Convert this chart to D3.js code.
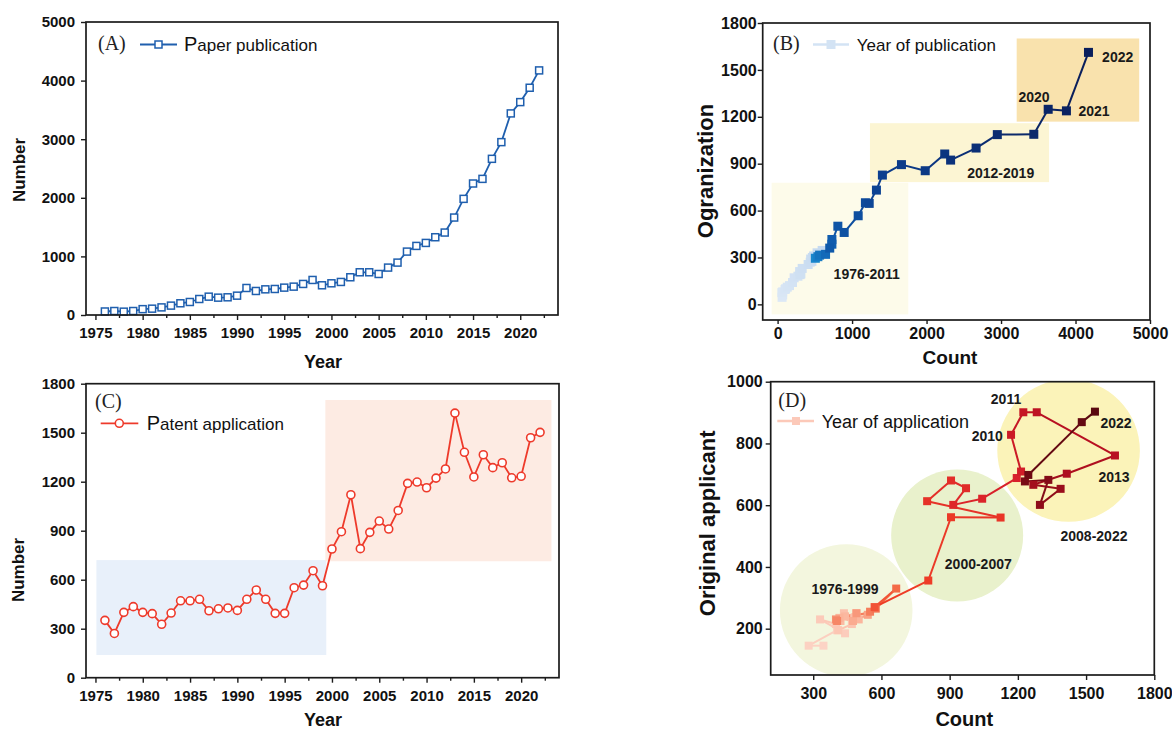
<!DOCTYPE html>
<html>
<head>
<meta charset="utf-8">
<script src="https://cdn.jsdelivr.net/npm/d3@7"></script>
<style>
  html, body { margin: 0; padding: 0; background: #fff; }
  svg { display: block; }
</style>
</head>
<body>
<svg id="fig" width="1172" height="731"></svg>
<script>
// ---------- data ----------
const years = d3.range(1976, 2023);

// (A) papers published per year
const paperCounts = [60, 68, 57, 68, 100, 108, 130, 160, 200, 222, 273, 313, 296, 302, 330,
  461, 410, 438, 444, 467, 484, 530, 598, 507, 541, 564, 644, 729, 729, 700, 809, 894,
  1082, 1179, 1230, 1327, 1407, 1663, 1982, 2244, 2323, 2665, 2950, 3440, 3633, 3878, 4174];

// (B) organizations publishing per year (x = paper count of that year)
const organizations = [45, 60, 75, 80, 95, 100, 110, 120, 140, 170, 180, 195, 210, 190, 230,
  275, 255, 270, 290, 300, 310, 330, 345, 295, 305, 315, 320, 385, 415, 360, 500, 460,
  567, 650, 646, 731, 827, 894, 855, 962, 923, 1000, 1086, 1088, 1248, 1238, 1612];

// (C) patent applications per year
const patentCounts = [351, 271, 400, 435, 400, 392, 327, 396, 471, 471, 480, 410, 422, 427, 412,
  480, 537, 480, 394, 394, 551, 567, 655, 563, 788, 894, 1120, 790, 890, 959, 910, 1024,
  1190, 1198, 1163, 1222, 1278, 1620, 1380, 1229, 1365, 1286, 1316, 1224, 1233, 1469, 1502];

// (D) applications (count) vs original applicants per year
const applicationCounts = [345, 280, 405, 440, 330, 400, 410, 470, 435, 480, 490, 420, 440, 500, 415,
  475, 540, 490, 400, 405, 550, 575, 665, 570, 806, 906, 1124, 801, 906, 972, 916, 1043,
  1195, 1214, 1170, 1224, 1283, 1627, 1415, 1268, 1388, 1297, 1334, 1231, 1246, 1481, 1539];
const originalApplicants = [145, 145, 195, 185, 230, 215, 195, 215, 250, 235, 250, 225, 240, 230, 235,
  225, 245, 250, 230, 225, 255, 265, 330, 270, 356, 561, 560, 613, 680, 655, 601, 621,
  688, 709, 828, 901, 901, 761, 702, 666, 653, 601, 682, 677, 698, 869, 903];

// tick values
const yearTicks = [1975, 1980, 1985, 1990, 1995, 2000, 2005, 2010, 2015, 2020];
const yearMinorTicks = [1977.5, 1982.5, 1987.5, 1992.5, 1997.5, 2002.5, 2007.5, 2012.5, 2017.5, 2022.5];
const paperTicks = [0, 1000, 2000, 3000, 4000, 5000];
const patentTicks = [0, 300, 600, 900, 1200, 1500, 1800];
const orgCountTicks = [0, 1000, 2000, 3000, 4000, 5000];
const orgTicks = [0, 300, 600, 900, 1200, 1500, 1800];
const applCountTicks = [300, 600, 900, 1200, 1500, 1800];
const applTicks = [200, 400, 600, 800, 1000];

// period annotations
const orgPeriods = [
  { label: "1976-2011", x: [-80, 1755], y: [-64, 778], fill: "#fdfbea" },
  { label: "2012-2019", x: [1240, 3645], y: [782, 1159], fill: "#fcf5d3" },
  { label: "2020-2022", x: [3210, 4855], y: [1169, 1701], fill: "#f9e2ad" }
];
const patentPeriods = [
  { x: [1975.1, 1999.4], y: [139, 720], fill: "#e8f0fa" },
  { x: [1999.3, 2023.2], y: [713, 1700], fill: "#fdebe3" }
];
const applPeriods = [
  { label: "1976-1999", cx: 445, cy: 259, fill: "#f3f6de" },
  { label: "2000-2007", cx: 933, cy: 502, fill: "#e9f1cc" },
  { label: "2008-2022", cx: 1423, cy: 777, fill: "#fbf3b9" }
];

// ---------- helpers ----------
const svg = d3.select("#fig");
const SANS = 'Arial, "Liberation Sans", sans-serif';
const SERIF = '"Liberation Serif", "Times New Roman", serif';
const INK = "#1b1b1b";
const intFmt = d3.format("d");

function styleAxis(g, fs) {
  g.select(".domain").remove();
  g.selectAll(".tick line").attr("stroke", INK).attr("stroke-width", 1.4);
  g.selectAll(".tick text").attr("fill", "#111")
    .style("font-family", SANS).style("font-weight", "bold").style("font-size", fs + "px");
}

function frame(x, y) {
  const [x0, x1] = x.range();
  const [y1, y0] = y.range();
  svg.append("rect").attr("x", x0).attr("y", y0).attr("width", x1 - x0).attr("height", y1 - y0)
    .attr("fill", "none").attr("stroke", INK).attr("stroke-width", 1.7);
}

function axisTitle(txt, cx, cy, fs, rotate) {
  svg.append("text")
    .attr("transform", `translate(${cx},${cy})` + (rotate ? " rotate(-90)" : ""))
    .attr("text-anchor", "middle").attr("dy", "0.36em")
    .style("font-family", SANS).style("font-weight", "bold").style("font-size", fs + "px")
    .attr("fill", "#111").text(txt);
}

function bold(txt, cx, cy, fs) {
  svg.append("text").attr("x", cx).attr("y", cy).attr("text-anchor", "middle").attr("dy", "0.36em")
    .style("font-family", SANS).style("font-weight", "bold").style("font-size", fs + "px")
    .attr("fill", "#1a1a1a").text(txt);
}

function yearAxis(x, yPix, pad) {
  const g1 = svg.append("g").attr("transform", `translate(0,${yPix})`)
    .call(d3.axisBottom(x).tickValues(yearTicks).tickSize(5).tickPadding(pad).tickFormat(intFmt));
  styleAxis(g1, 15);
  const g2 = svg.append("g").attr("transform", `translate(0,${yPix})`)
    .call(d3.axisBottom(x).tickValues(yearMinorTicks).tickSize(3).tickFormat(""));
  styleAxis(g2, 15);
}

// ---------- (A) paper publication ----------
{
  const x = d3.scaleLinear().domain([1974, 2024]).range([86, 558]);
  const y = d3.scaleLinear().domain([0, 5000]).range([315, 22]);
  const blue = "#1f5fae";
  yearAxis(x, 315, 7);
  styleAxis(svg.append("g").attr("transform", "translate(86,0)")
    .call(d3.axisLeft(y).tickValues(paperTicks).tickSize(5).tickPadding(6).tickFormat(intFmt)), 15);

  const pts = years.map((yr, i) => [yr, paperCounts[i]]);
  svg.append("path").datum(pts)
    .attr("d", d3.line().x(d => x(d[0])).y(d => y(d[1])))
    .attr("fill", "none").attr("stroke", blue).attr("stroke-width", 1.8);
  svg.append("g").selectAll("rect").data(pts).join("rect")
    .attr("x", d => x(d[0]) - 3.5).attr("y", d => y(d[1]) - 3.5)
    .attr("width", 7).attr("height", 7)
    .attr("fill", "#fff").attr("stroke", blue).attr("stroke-width", 1.5);
  frame(x, y);

  svg.append("text").attr("x", 98).attr("y", 50)
    .style("font-family", SERIF).style("font-size", "20px").attr("fill", "#222").text("(A)");
  svg.append("line").attr("x1", 140).attr("x2", 177).attr("y1", 44.5).attr("y2", 44.5)
    .attr("stroke", blue).attr("stroke-width", 1.8);
  svg.append("rect").attr("x", 155).attr("y", 41).attr("width", 7).attr("height", 7)
    .attr("fill", "#fff").attr("stroke", blue).attr("stroke-width", 1.5);
  const t = svg.append("text").attr("x", 184).attr("y", 51)
    .style("font-family", SANS).attr("fill", "#111");
  t.append("tspan").style("font-size", "20px").text("P");
  t.append("tspan").style("font-size", "17px").text("aper publication");

  axisTitle("Number", 19, 170, 17, true);
  axisTitle("Year", 323, 362, 18, false);
}

// ---------- (B) organizations vs paper count ----------
{
  const x = d3.scaleLinear().domain([-200, 5000]).range([762.7, 1150]);
  const y = d3.scaleLinear().domain([-100, 1800]).range([320, 23]);
  const color = d3.scaleLinear()
    .domain([1976, 1998, 1999, 2003, 2012, 2022])
    .range(["#dce8f6", "#c6daf0", "#1a87cc", "#1060b2", "#0c3f8f", "#0a1f5c"])
    .interpolate(d3.interpolateRgb);

  orgPeriods.forEach(p => {
    svg.append("rect").attr("x", x(p.x[0])).attr("y", y(p.y[1]))
      .attr("width", x(p.x[1]) - x(p.x[0])).attr("height", y(p.y[0]) - y(p.y[1]))
      .attr("fill", p.fill);
  });

  styleAxis(svg.append("g").attr("transform", "translate(0,320)")
    .call(d3.axisBottom(x).tickValues(orgCountTicks).tickSize(4).tickPadding(4).tickFormat(intFmt)), 16);
  styleAxis(svg.append("g").attr("transform", "translate(762.7,0)")
    .call(d3.axisLeft(y).tickValues(orgTicks).tickSize(5).tickPadding(1).tickFormat(intFmt)), 16);

  const pts = years.map((yr, i) => ({ yr, c: paperCounts[i], o: organizations[i] }));
  const segs = svg.append("g");
  for (let i = 1; i < pts.length; i++) {
    segs.append("line")
      .attr("x1", x(pts[i - 1].c)).attr("y1", y(pts[i - 1].o))
      .attr("x2", x(pts[i].c)).attr("y2", y(pts[i].o))
      .attr("stroke", color(pts[i].yr)).attr("stroke-width", 2);
  }
  svg.append("g").selectAll("rect").data(pts).join("rect")
    .attr("x", d => x(d.c) - 4.5).attr("y", d => y(d.o) - 4.5)
    .attr("width", 9).attr("height", 9).attr("fill", d => color(d.yr));
  frame(x, y);

  bold("1976-2011", 866.7, 274, 14);
  bold("2012-2019", 1000.7, 172.7, 14);
  bold("2020", 1034, 97.3, 14);
  bold("2021", 1094, 111, 14);
  bold("2022", 1117.7, 56.7, 14);

  svg.append("text").attr("x", 773).attr("y", 50)
    .style("font-family", SERIF).style("font-size", "20px").attr("fill", "#222").text("(B)");
  svg.append("line").attr("x1", 813).attr("x2", 849).attr("y1", 44.5).attr("y2", 44.5)
    .attr("stroke", "#d3e3f4").attr("stroke-width", 2.5);
  svg.append("rect").attr("x", 826.5).attr("y", 40).attr("width", 9).attr("height", 9).attr("fill", "#d3e3f4");
  svg.append("text").attr("x", 856.7).attr("y", 50.5)
    .style("font-family", SANS).style("font-size", "17px").attr("fill", "#111").text("Year of publication");

  axisTitle("Ogranization", 705, 171, 22, true);
  axisTitle("Count", 950, 357, 19, false);
}

// ---------- (C) patent application ----------
{
  const x = d3.scaleLinear().domain([1974, 2024]).range([86, 559]);
  const y = d3.scaleLinear().domain([0, 1800]).range([677.7, 383.7]);
  const red = "#ee3a2b";

  patentPeriods.forEach(p => {
    svg.append("rect").attr("x", x(p.x[0])).attr("y", y(p.y[1]))
      .attr("width", x(p.x[1]) - x(p.x[0])).attr("height", y(p.y[0]) - y(p.y[1]))
      .attr("fill", p.fill);
  });

  yearAxis(x, 677.7, 8);
  styleAxis(svg.append("g").attr("transform", "translate(86,0)")
    .call(d3.axisLeft(y).tickValues(patentTicks).tickSize(5).tickPadding(6).tickFormat(intFmt)), 15);

  const pts = years.map((yr, i) => [yr, patentCounts[i]]);
  svg.append("path").datum(pts)
    .attr("d", d3.line().x(d => x(d[0])).y(d => y(d[1])))
    .attr("fill", "none").attr("stroke", red).attr("stroke-width", 1.8);
  svg.append("g").selectAll("circle").data(pts).join("circle")
    .attr("cx", d => x(d[0])).attr("cy", d => y(d[1])).attr("r", 4)
    .attr("fill", "#fff").attr("stroke", red).attr("stroke-width", 1.6);
  frame(x, y);

  svg.append("text").attr("x", 95).attr("y", 408)
    .style("font-family", SERIF).style("font-size", "20px").attr("fill", "#222").text("(C)");
  svg.append("line").attr("x1", 100.7).attr("x2", 138.3).attr("y1", 423.3).attr("y2", 423.3)
    .attr("stroke", red).attr("stroke-width", 1.8);
  svg.append("circle").attr("cx", 119.3).attr("cy", 423.3).attr("r", 4)
    .attr("fill", "#fff").attr("stroke", red).attr("stroke-width", 1.6);
  const t = svg.append("text").attr("x", 146.7).attr("y", 430)
    .style("font-family", SANS).attr("fill", "#111");
  t.append("tspan").style("font-size", "20px").text("P");
  t.append("tspan").style("font-size", "17px").text("atent application");

  axisTitle("Number", 17.5, 570, 17, true);
  axisTitle("Year", 323, 720, 18, false);
}

// ---------- (D) original applicants vs application count ----------
{
  const x = d3.scaleLinear().domain([113, 1800]).range([770.7, 1154.3]);
  const y = d3.scaleLinear().domain([50, 1000]).range([675, 381.7]);
  const color = d3.scaleLinear()
    .domain([1976, 1990, 1998, 2000, 2008, 2013, 2022])
    .range(["#fcd3c5", "#fbb49a", "#f36a46", "#ee3c26", "#d8202a", "#b81021", "#5a0810"])
    .interpolate(d3.interpolateRgb);
  const radii = [66.3, 66, 71.3];

  svg.append("defs").append("clipPath").attr("id", "clipD")
    .append("rect").attr("x", 770.7).attr("y", 381.7).attr("width", 383.6).attr("height", 293.3);
  const bg = svg.append("g").attr("clip-path", "url(#clipD)");
  applPeriods.forEach((p, i) => {
    bg.append("circle").attr("cx", x(p.cx)).attr("cy", y(p.cy)).attr("r", radii[i])
      .attr("fill", p.fill);
  });

  styleAxis(svg.append("g").attr("transform", "translate(0,675)")
    .call(d3.axisBottom(x).tickValues(applCountTicks).tickSize(5).tickPadding(8).tickFormat(intFmt)), 16);
  styleAxis(svg.append("g").attr("transform", "translate(770.7,0)")
    .call(d3.axisLeft(y).tickValues(applTicks).tickSize(5).tickPadding(3).tickFormat(intFmt)), 16);

  svg.append("text").attr("x", 778.3).attr("y", 406.5)
    .style("font-family", SERIF).style("font-size", "20px").attr("fill", "#222").text("(D)");
  svg.append("line").attr("x1", 777.3).attr("x2", 814).attr("y1", 421).attr("y2", 421)
    .attr("stroke", "#fcc9b9").attr("stroke-width", 2.5);
  svg.append("rect").attr("x", 792).attr("y", 417).attr("width", 8).attr("height", 8).attr("fill", "#fcc9b9");
  svg.append("text").attr("x", 821.7).attr("y", 427.5)
    .style("font-family", SANS).style("font-size", "18px").attr("fill", "#111").text("Year of application");

  const pts = years.map((yr, i) => ({ yr, c: applicationCounts[i], a: originalApplicants[i] }));
  const segs = svg.append("g");
  for (let i = 1; i < pts.length; i++) {
    segs.append("line")
      .attr("x1", x(pts[i - 1].c)).attr("y1", y(pts[i - 1].a))
      .attr("x2", x(pts[i].c)).attr("y2", y(pts[i].a))
      .attr("stroke", color(pts[i].yr)).attr("stroke-width", 2);
  }
  svg.append("g").selectAll("rect").data(pts).join("rect")
    .attr("x", d => x(d.c) - 4).attr("y", d => y(d.a) - 4)
    .attr("width", 8).attr("height", 8).attr("fill", d => color(d.yr));
  frame(x, y);

  bold("1976-1999", 845, 589.3, 14);
  bold("2000-2007", 978.3, 564, 14);
  bold("2008-2022", 1094, 536, 14);
  bold("2011", 1006, 399, 14);
  bold("2010", 987.3, 435.7, 14);
  bold("2022", 1116, 423.3, 14);
  bold("2013", 1114, 476.7, 14);

  axisTitle("Original applicant", 707.5, 523.3, 22, true);
  axisTitle("Count", 964.3, 719, 20, false);
}
</script>
</body>
</html>
